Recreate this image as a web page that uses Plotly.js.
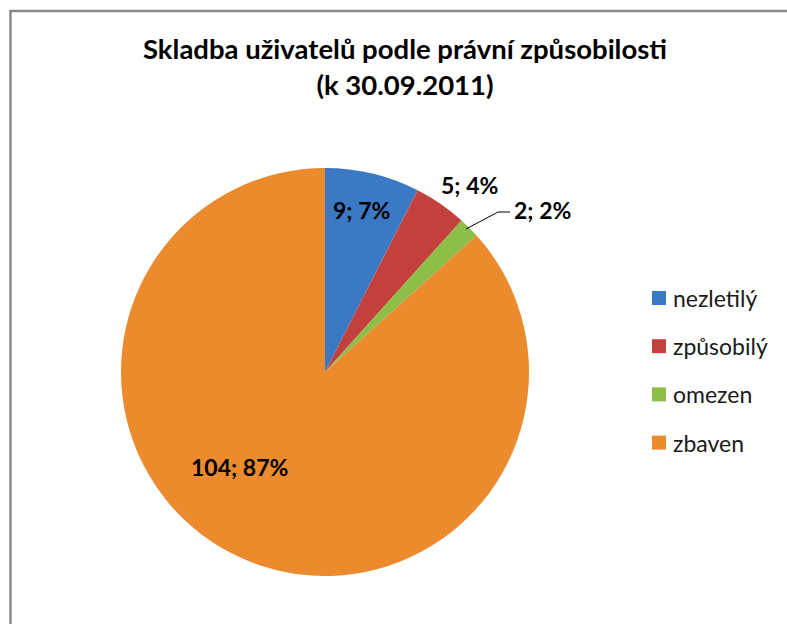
<!DOCTYPE html>
<html>
<head>
<meta charset="utf-8">
<script src="https://cdn.plot.ly/plotly-3.0.1.min.js"></script>
<style>html,body{margin:0;padding:0;background:#fff;}#chart{width:787px;height:624px;}</style>
</head>
<body>
<div id="chart"></div>
<script>
// ---- data ----
const categories = ["nezletilý", "způsobilý", "omezen", "zbaven"];
const counts = [9, 5, 2, 104];
const percentLabels = ["7%", "4%", "2%", "87%"];
const sliceColors = ["#3C79C4", "#C4403D", "#8DBE47", "#EC8A2E"];
const chartTitle = "Skladba uživatelů podle právní způsobilosti<br>(k 30.09.2011)";

// ---- layout helpers (pixel -> paper) ----
const W = 787, H = 624;
const px = x => x / W;
const py = y => 1 - y / H;
const FONT = "Lato, 'Open Sans', sans-serif";

// pie geometry
const cx = 325, cy = 372, R = 204;

const trace = {
  type: "pie",
  labels: categories,
  values: counts,
  sort: false,
  direction: "clockwise",
  rotation: 0,
  marker: { colors: sliceColors, line: { width: 0 } },
  textinfo: "none",
  hoverinfo: "skip",
  showlegend: false,
  domain: { x: [px(cx - R), px(cx + R)], y: [py(cy + R), py(cy - R)] }
};

// data label positions (layout only)
const labelPos = [[361, 210], [470, 185], [542, 210], [239, 467]];
const annotations = categories.map((c, i) => ({
  xref: "paper", yref: "paper",
  x: px(labelPos[i][0]), y: py(labelPos[i][1]),
  xanchor: "center", yanchor: "middle",
  text: counts[i] + "; " + percentLabels[i],
  showarrow: false,
  font: { family: FONT, size: 23, color: "#000", weight: "bold" }
}));

// manual legend
const legendX = 652, legendY0 = 298, legendGap = 48.2, sq = 14;
const shapes = [];
categories.forEach((c, i) => {
  const y = legendY0 + i * legendGap;
  shapes.push({
    type: "rect", xref: "paper", yref: "paper",
    x0: px(legendX), x1: px(legendX + sq), y0: py(y + sq / 2), y1: py(y - sq / 2),
    fillcolor: sliceColors[i], line: { width: 0 }
  });
  annotations.push({
    xref: "paper", yref: "paper",
    x: px(legendX + sq + 5), y: py(y),
    xanchor: "left", yanchor: "middle",
    text: c, showarrow: false,
    font: { family: FONT, size: 23, color: "#1a1a1a" }
  });
});

// leader line for the small slice label
shapes.push({
  type: "path", xref: "paper", yref: "paper",
  path: `M ${px(466)} ${py(229)} L ${px(498)} ${py(212)} L ${px(510)} ${py(212)}`,
  line: { color: "#000", width: 1 }
});

// chart border (Excel chart area)
shapes.push({
  type: "rect", xref: "paper", yref: "paper",
  x0: px(10.5), x1: px(800), y0: py(640), y1: py(11),
  line: { color: "#8a8a8a", width: 2.5 }, fillcolor: "rgba(0,0,0,0)"
});

const layout = {
  width: W, height: H,
  margin: { l: 0, r: 0, t: 0, b: 0 },
  paper_bgcolor: "#fff",
  title: {
    text: chartTitle,
    x: px(405), xanchor: "center",
    y: py(59), yanchor: "middle", yref: "container",
    font: { family: FONT, size: 27.5, color: "#000", weight: "bold" }
  },
  showlegend: false,
  annotations: annotations,
  shapes: shapes
};

Plotly.newPlot("chart", [trace], layout, { displayModeBar: false, staticPlot: true });
</script>
</body>
</html>
